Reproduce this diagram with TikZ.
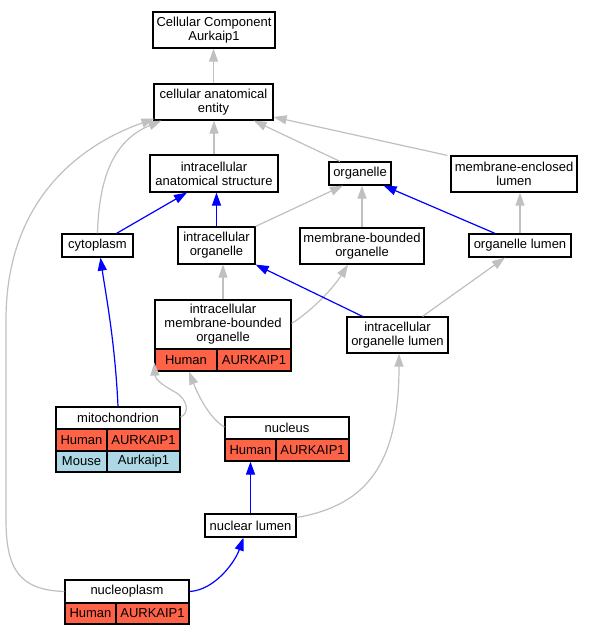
\documentclass[tikz,border=0pt]{standalone}
\usepackage{fontspec}
\setmainfont{Liberation Sans}
\usetikzlibrary{arrows.meta}
\definecolor{tomatored}{RGB}{255,99,71}
\definecolor{lblue}{RGB}{173,216,230}
\definecolor{edgegray}{RGB}{192,192,192}
\newcommand\myfs{\fontsize{13}{14}\selectfont}
\begin{document}
\begin{tikzpicture}[x=1pt,y=-1pt,
  box/.style={draw=black, line width=1.2pt, inner sep=0pt, align=center, font=\myfs, fill=white},
  hum/.style={box, fill=tomatored},
  mou/.style={box, fill=lblue},
  garr/.style={draw=edgegray, line width=1.2pt, -{Triangle[length=13pt,width=9pt]}},
  barr/.style={draw=blue, line width=1.2pt, -{Triangle[length=13pt,width=9pt]}}]
\useasboundingbox[fill=white] (0,0) rectangle (592,635);
% nodes
\node[box, minimum width=122pt, minimum height=36pt] (ccA) at (214,30) {Cellular Component\\Aurkaip1};
\node[box, minimum width=119pt, minimum height=36pt] (cae) at (213.5,102) {cellular anatomical\\entity};
\node[box, minimum width=128pt, minimum height=37pt] (ias) at (214,173.5) {intracellular\\anatomical structure};
\node[box, minimum width=62pt, minimum height=23pt] (org) at (360,173.5) {organelle};
\node[box, minimum width=126pt, minimum height=36pt] (mel) at (514,174) {membrane-enclosed\\lumen};
\node[box, minimum width=71pt, minimum height=23pt] (cyt) at (97.5,245.5) {cytoplasm};
\node[box, minimum width=77pt, minimum height=37pt] (io) at (216.5,245.5) {intracellular\\organelle};
\node[box, minimum width=124pt, minimum height=36pt] (mbo) at (362,246) {membrane-bounded\\organelle};
\node[box, minimum width=102pt, minimum height=23pt] (ol) at (520,245.5) {organelle lumen};
\node[box, minimum width=136pt, minimum height=49pt] (imbo) at (223,324.5) {intracellular\\membrane-bounded\\organelle};
\node[hum, minimum width=62pt, minimum height=22pt] (imboH) at (186,360) {Human};
\node[hum, minimum width=74pt, minimum height=22pt] (imboA) at (254,360) {AURKAIP1};
\node[box, minimum width=101pt, minimum height=36pt] (iol) at (397.5,335) {intracellular\\organelle lumen};
\node[box, minimum width=124pt, minimum height=22pt] (mito) at (118,418) {mitochondrion};
\node[hum, minimum width=51pt, minimum height=22pt] (mitoH) at (81.5,440) {Human};
\node[hum, minimum width=73pt, minimum height=22pt] (mitoA) at (143.5,440) {AURKAIP1};
\node[mou, minimum width=51pt, minimum height=21pt] (mitoM) at (81.5,461.5) {Mouse};
\node[mou, minimum width=73pt, minimum height=21pt] (mitoMA) at (143.5,461.5) {Aurkaip1};
\node[box, minimum width=124pt, minimum height=22pt] (nuc) at (287,428) {nucleus};
\node[hum, minimum width=51pt, minimum height=22pt] (nucH) at (250.5,450) {Human};
\node[hum, minimum width=73pt, minimum height=22pt] (nucA) at (312.5,450) {AURKAIP1};
\node[box, minimum width=91pt, minimum height=23pt] (nl) at (250.5,525.5) {nuclear lumen};
\node[box, minimum width=124pt, minimum height=23pt] (npl) at (127,591.5) {nucleoplasm};
\node[hum, minimum width=51pt, minimum height=21pt] (nplH) at (90.5,613.5) {Human};
\node[hum, minimum width=73pt, minimum height=21pt] (nplA) at (152.5,613.5) {AURKAIP1};
% edges
\draw[garr] (cae.north) -- (cae.north |- ccA.south);
\draw[garr] (ias.north) -- (ias.north |- cae.south);
\draw[garr] ([xshift=-20pt]org.north) -- ([xshift=-20pt]cae.south east);
\draw[garr] ([xshift=-3pt]mel.north west) -- ([yshift=-15pt]cae.east);
\draw[garr] (cyt.north) .. controls (99,175) and (115,140) .. ([xshift=8pt]cae.south west);
\draw[garr] (npl.west) .. controls (20,590) and (6,570) .. (6,520) -- (6,320) .. controls (6,200) and (80,145) .. ([xshift=1pt,yshift=2pt]cae.south west);
\draw[barr] ([xshift=19pt]cyt.north) -- ([xshift=-27pt]ias.south);
\draw[barr] (io.north) -- (io.north |- ias.south);
\draw[garr] (io.north east) -- ([xshift=-17pt]org.south);
\draw[garr] (mbo.north) -- (mbo.north |- org.south);
\draw[barr] ([xshift=-25pt]ol.north) -- ([xshift=-8pt]org.south east);
\draw[garr] (ol.north) -- (ol.north |- mel.south);
\draw[garr] (imbo.north) -- (imbo.north |- io.south);
\draw[garr] ([yshift=1pt]imbo.east) .. controls (310,312) and (332,290) .. ([xshift=-14pt]mbo.south);
\draw[barr] ([xshift=-35pt]iol.north) -- (io.south east);
\draw[garr] ([xshift=25pt]iol.north) -- ([xshift=-15pt]ol.south);
\draw[barr] (mito.north) .. controls (115,340) and (105,290) .. ([xshift=3pt]cyt.south);
\draw[garr] ([yshift=1pt]mito.east) .. controls (189,414) and (189,400) .. (175,392) .. controls (160,384) and (155,378) .. ([yshift=9pt]imboH.south west);
\draw[garr] ([yshift=1pt]nuc.west) .. controls (212,420) and (200,400) .. ([xshift=3pt]imboH.south);
\draw[barr] (nl.north) -- (nl.north |- nucH.south);
\draw[garr] ([yshift=8pt]nl.east) .. controls (370,505) and (399,460) .. ([xshift=1.5pt]iol.south);
\draw[barr] (npl.east) .. controls (215,590) and (235,562) .. ([xshift=-7pt]nl.south);
\end{tikzpicture}
\end{document}
